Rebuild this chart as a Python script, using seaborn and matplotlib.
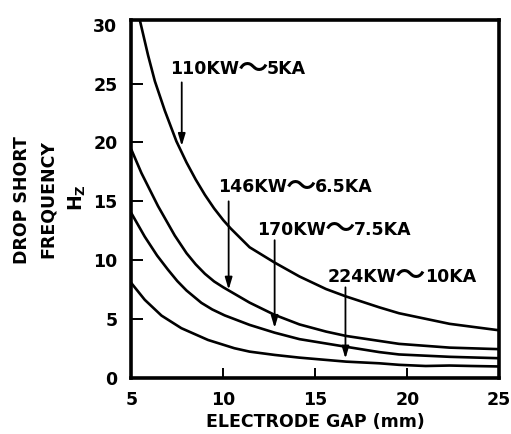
import matplotlib
matplotlib.use("Agg")
import matplotlib.pyplot as plt
import seaborn as sns
import pandas as pd

# Drop-short frequency vs. electrode gap for four power / current settings
series_labels = ["110KW～5KA", "146KW～6.5KA", "170KW～7.5KA", "224KW～10KA"]

gap_110 = [5.46, 5.64, 5.91, 6.28, 6.82, 7.45, 8.0, 8.5, 9.0, 9.5, 10.0, 10.4, 11.43,
           12.79, 14.14, 15.59, 16.68, 18.48, 19.55, 22.3, 25.0]
freq_110 = [30.4, 29.2, 27.4, 25.2, 22.7, 20.1, 18.3, 16.85, 15.55, 14.4, 13.4, 12.7, 11.1,
            9.8, 8.62, 7.55, 6.92, 6.0, 5.5, 4.6, 4.05]

gap_146 = [5.0, 5.55, 6.45, 7.36, 8.0, 8.5, 9.0, 9.5, 10.0, 10.44, 11.43, 12.79, 14.14,
           15.59, 16.68, 18.48, 19.55, 22.3, 25.0]
freq_146 = [19.4, 17.4, 14.6, 12.1, 10.6, 9.65, 8.85, 8.2, 7.7, 7.3, 6.4, 5.36, 4.55,
            3.94, 3.57, 3.15, 2.9, 2.58, 2.45]

gap_170 = [5.0, 5.73, 6.4, 6.99, 7.5, 8.0, 8.81, 9.4, 10.07, 11.43, 12.79, 14.14, 16.68,
           18.48, 19.55, 22.3, 25.0]
freq_170 = [14.0, 12.0, 10.4, 9.2, 8.23, 7.43, 6.38, 5.82, 5.32, 4.51, 3.85, 3.3, 2.65,
            2.2, 2.0, 1.8, 1.68]

gap_224 = [5.0, 5.73, 6.64, 7.72, 9.17, 10.6, 11.43, 12.79, 14.14, 16.68, 18.48, 19.55,
           21.0, 22.3, 23.5, 25.0]
freq_224 = [8.06, 6.64, 5.3, 4.23, 3.23, 2.53, 2.24, 1.96, 1.73, 1.39, 1.25, 1.12,
            1.02, 1.06, 1.02, 0.98]

# label anchor (left edge x, centre y) and arrow (x, start y, tip y)
label_x = [7.09, 9.69, 11.81, 15.66]
label_y = [26.2, 16.2, 12.6, 8.6]
arrow_x = [7.74, 10.29, 12.79, 16.64]
arrow_y0 = [25.1, 15.0, 11.7, 7.7]
arrow_y1 = [19.7, 7.5, 4.25, 1.65]

x_ticks = [5, 10, 15, 20, 25]
y_ticks = [0, 5, 10, 15, 20, 25, 30]

frames = []
for lab, gx, fy in zip(series_labels,
                       [gap_110, gap_146, gap_170, gap_224],
                       [freq_110, freq_146, freq_170, freq_224]):
    frames.append(pd.DataFrame({"gap": gx, "freq": fy, "setting": lab}))
df = pd.concat(frames, ignore_index=True)

sns.set_theme(style="white")
plt.rcParams["font.family"] = ["DejaVu Sans", "Noto Sans CJK JP"]
plt.rcParams["font.weight"] = "bold"
plt.rcParams["mathtext.fontset"] = "dejavusans"
plt.rcParams["text.color"] = "black"
plt.rcParams["axes.labelcolor"] = "black"

fig = plt.figure(figsize=(5.11, 4.34), dpi=100)
ax = fig.add_axes([0.257, 0.129, 0.720, 0.825])

sns.lineplot(data=df, x="gap", y="freq", units="setting", estimator=None,
             color="black", linewidth=1.9, sort=False, ax=ax, legend=False)

ax.set_xlim(5, 25)
ax.set_ylim(0, 30.4)

fs = 12.5
ax.set_xticks(x_ticks)
ax.set_yticks(y_ticks)
ax.set_xticklabels([str(v) for v in x_ticks], fontsize=fs, fontweight="bold")
ax.set_yticklabels([str(v) for v in y_ticks], fontsize=fs, fontweight="bold")
ax.tick_params(axis="x", direction="in", length=7.5, width=1.4, colors="black",
               bottom=True, pad=9)
ax.tick_params(axis="y", direction="in", length=8.5, width=1.4, colors="black",
               left=True, pad=10)
# no marks at the corners of the frame
for t in (ax.xaxis.get_major_ticks()[0], ax.xaxis.get_major_ticks()[-1],
          ax.yaxis.get_major_ticks()[0], ax.yaxis.get_major_ticks()[-1]):
    t.tick1line.set_visible(False)

for side in ["left", "right", "top", "bottom"]:
    ax.spines[side].set_visible(True)
    ax.spines[side].set_color("black")
    ax.spines[side].set_linewidth(2.6)

ax.set_xlabel("ELECTRODE GAP (mm)", fontsize=fs, fontweight="bold", labelpad=3)
ax.set_ylabel("")

# three-line vertical axis title
fig.text(22 / 511, 1 - 200 / 434, "DROP SHORT", rotation=90, ha="center",
         va="center", fontsize=fs, fontweight="bold")
fig.text(48 / 511, 1 - 199 / 434, "FREQUENCY", rotation=90, ha="center",
         va="center", fontsize=fs, fontweight="bold")
fig.text(77 / 511, 1 - 198 / 434, r"$\mathbf{H_Z}$", rotation=90, ha="center",
         va="center", fontsize=fs + 1)

for lab, lx, ly, axx, ay0, ay1 in zip(series_labels, label_x, label_y,
                                       arrow_x, arrow_y0, arrow_y1):
    power, current = lab.split("～")
    t1 = ax.text(lx, ly, power, ha="left", va="center", fontsize=fs,
                 fontweight="bold")
    t2 = ax.annotate("～", xy=(1, 0.5), xycoords=t1, xytext=(-0.8, 0),
                     textcoords="offset points", ha="left", va="center",
                     fontsize=22, fontweight="medium",
                     family=["Noto Sans CJK JP", "DejaVu Sans"])
    ax.annotate(current, xy=(1, 0.5), xycoords=t2, xytext=(-0.8, 0),
                textcoords="offset points", ha="left", va="center",
                fontsize=fs, fontweight="bold")
    ax.annotate("", xy=(axx, ay1), xytext=(axx, ay0),
                arrowprops=dict(arrowstyle="-|>,head_length=0.6,head_width=0.18",
                                color="black", lw=1.3, shrinkA=0, shrinkB=0))

fig.savefig("out.png", dpi=100, facecolor="white")
